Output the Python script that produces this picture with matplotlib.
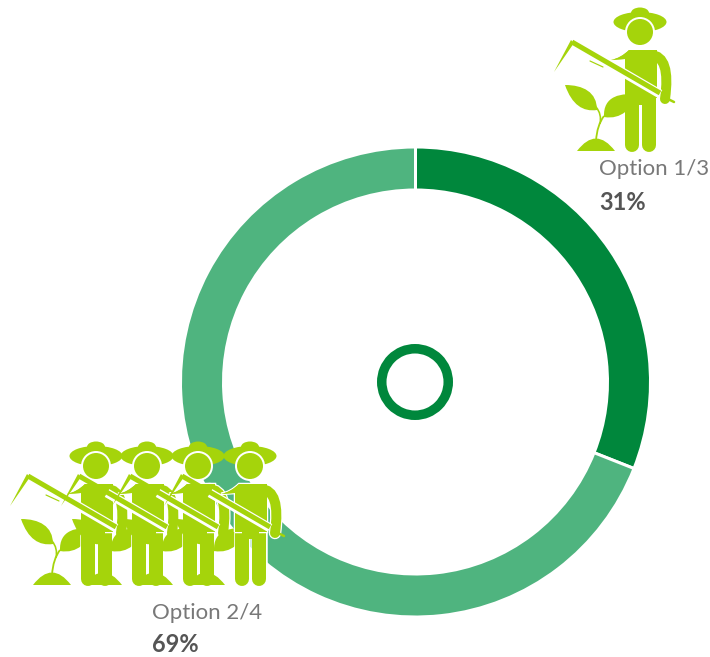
import matplotlib
matplotlib.use('Agg')
import matplotlib.pyplot as plt
from matplotlib.patches import Circle, Ellipse, PathPatch, Wedge
from matplotlib.path import Path
import matplotlib.patheffects as pe

shares = [31, 69]
option_labels = ['Option 1/3', 'Option 2/4']
share_labels = ['31%', '69%']
ring_colors = ['#00873c', '#4fb47f']
icon_green = '#a5d40b'

plt.rcParams['font.family'] = ['Lato', 'DejaVu Sans']

M, Q, B, T = Path.MOVETO, Path.CURVE3, Path.CURVE4, Path.LINETO

TORSO = [(625, 98), (625, 59), (611, 60), (621, 58), (629, 50), (657, 50), (657, 98), (625, 98)]
TORSO_CODES = [M, T, T, Q, Q, T, T, T]


def px(n):
    # line widths are worked out in pixels
    return n * 72 / 100


def shape(ax, pts, codes, dx, dy, z, color=icon_green, halo=False):
    verts = [(x + dx, y + dy) for x, y in pts]
    p = PathPatch(Path(verts, codes), fc=color, ec='none', zorder=z)
    if halo:
        p.set_path_effects([pe.withStroke(linewidth=px(2.5), foreground='white')])
    ax.add_patch(p)
    return p


def stroke(ax, xs, ys, width, z, color=icon_green, cap='round'):
    ax.plot(xs, ys, color=color, lw=px(width), solid_capstyle=cap, zorder=z)


def plant(ax, dx, dy, z):
    # left leaf
    shape(ax, [(565, 85), (583, 85), (597, 92), (597, 110), (583, 112), (572, 105), (565, 85)],
          [M, B, B, B, B, B, B], dx, dy, z)
    # right leaf
    shape(ax, [(642, 95), (620, 92), (603, 96), (604, 117), (622, 120), (630, 108), (642, 95)],
          [M, B, B, B, B, B, B], dx, dy, z)
    # stems
    ax.add_patch(PathPatch(Path([(596+dx, 141+dy), (597+dx, 125+dy), (604+dx, 116+dy)], [M, Q, Q]),
                           fc='none', ec=icon_green, lw=px(1.8), zorder=z))
    ax.add_patch(PathPatch(Path([(596+dx, 107+dy), (602+dx, 114+dy), (600+dx, 124+dy)], [M, Q, Q]),
                           fc='none', ec=icon_green, lw=px(1.6), zorder=z))
    # mound
    shape(ax, [(577, 151), (596, 126), (615, 151), (577, 151)], [M, Q, Q, T], dx, dy, z)


def farmer(ax, dx, dy, z, halo=False):
    # hook, tapers down to a point
    shape(ax, [(571, 40), (574, 43), (554, 72), (571, 40)], [M, T, T, T], dx, dy, z)

    for x in (632, 649):
        line, = ax.plot([x+dx, x+dx], [95+dy, 145+dy], color=icon_green, lw=px(14),
                        solid_capstyle='round', zorder=z+1)
        if halo:
            line.set_path_effects([pe.withStroke(linewidth=px(16.5), foreground='white')])

    # outline of the torso first, then arm, then torso on top so no cap shows
    shape(ax, TORSO, TORSO_CODES, dx, dy, z+1, halo=halo)
    arm = PathPatch(Path([(651+dx, 55+dy), (671+dx, 56+dy), (665+dx, 99+dy)], [M, Q, Q]),
                    fc='none', ec=icon_green, lw=px(10), capstyle='round', zorder=z+1)
    ax.add_patch(arm)
    if halo:
        arm.set_path_effects([pe.withStroke(linewidth=px(12.5), foreground='white')])
    shape(ax, TORSO, TORSO_CODES, dx, dy, z+1)
    # slit between legs stops at the hips
    stroke(ax, [632+dx, 649+dx], [98+dy, 98+dy], 14, z+1, cap='butt')

    # pole across the chest, white casing only
    stroke(ax, [600+dx, 660+dx], [59+dy, 94+dy], 9, z+2, color='white', cap='butt')
    stroke(ax, [572+dx, 660+dx], [42+dy, 93+dy], 5, z+2, cap='butt')
    stroke(ax, [572+dx, 572+dx], [41+dy, 41+dy], 6, z+2)
    stroke(ax, [664+dx, 674+dx], [97+dy, 102+dy], 2.5, z+2)
    stroke(ax, [590+dx, 603+dx], [61+dy, 67+dy], 1.2, z+2)

    # hat and head
    ax.add_patch(Ellipse((640+dx, 22+dy), 53, 20, fc=icon_green, ec='none', zorder=z+4))
    ax.add_patch(Ellipse((640+dx, 13+dy), 18, 11, fc=icon_green, ec='none', zorder=z+4))
    ax.add_patch(Circle((640+dx, 32+dy), 15, fc='white', ec='none', zorder=z+5))
    ax.add_patch(Circle((640+dx, 32+dy), 13, fc=icon_green, ec='none', zorder=z+6))


fig = plt.figure(figsize=(7.10, 6.57), dpi=100)
ax = fig.add_axes([0, 0, 1, 1])

wedges, _ = ax.pie(shares, colors=ring_colors, startangle=-90, counterclock=True,
                   center=(415.5, 382), radius=235,
                   wedgeprops=dict(width=43, edgecolor='white', linewidth=px(3)))
for w in wedges:
    w.set_zorder(1)

ax.add_patch(Wedge((415, 382), 38, 0, 360, width=9.5, fc=ring_colors[0], ec='none', zorder=2))

# single farmer, top right
plant(ax, 0, 0, 5)
farmer(ax, 0, 0, 6)

# group of four, bottom left
for i, off in enumerate([-544, -493, -442, -390]):
    plant(ax, off, 434, 10 + i*10)
    farmer(ax, off, 434, 11 + i*10, halo=True)

ax.text(599, 169, option_labels[0], fontsize=16, color='#787878', va='center', ha='left')
ax.text(599, 203, share_labels[0], fontsize=17, fontweight='bold', color='#555555', va='center', ha='left')
ax.text(152, 613, option_labels[1], fontsize=16, color='#787878', va='center', ha='left')
ax.text(152, 645, share_labels[1], fontsize=17, fontweight='bold', color='#555555', va='center', ha='left')

ax.set_xlim(0, 710)
ax.set_ylim(657, 0)
ax.set_aspect('auto')
ax.axis('off')

fig.savefig('out.png', dpi=100)
